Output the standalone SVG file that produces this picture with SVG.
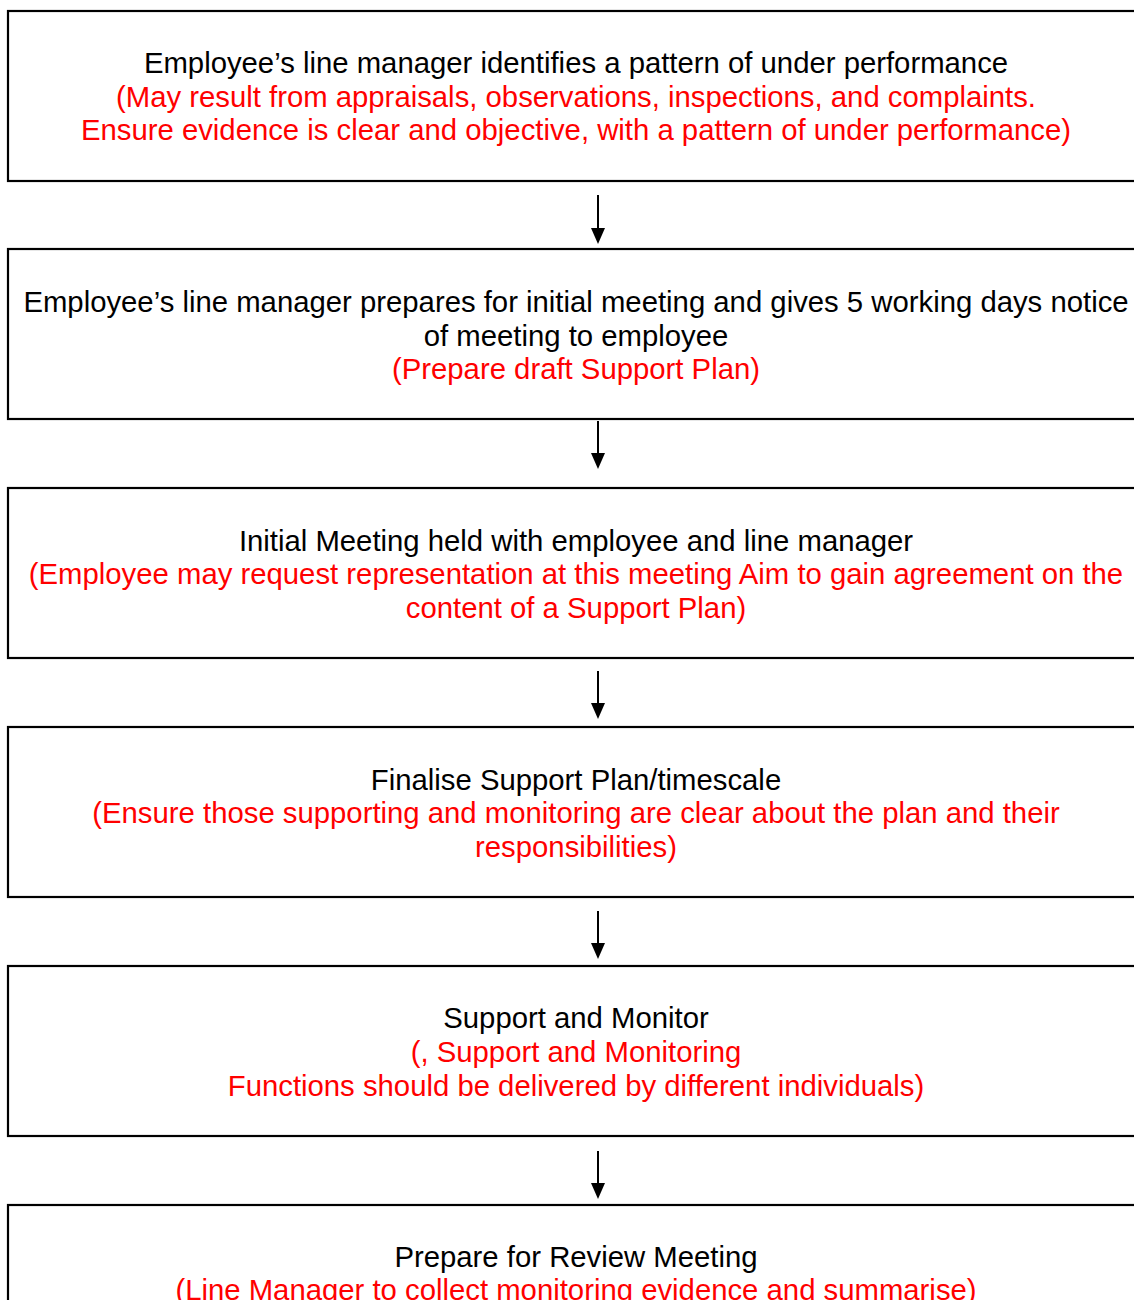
<svg xmlns="http://www.w3.org/2000/svg" width="1134" height="1300" viewBox="0 0 1134 1300">
  <style>
    .box { fill: #ffffff; stroke: #000000; stroke-width: 2.2; }
    .t { font-family: "Liberation Sans", Arial, sans-serif; font-size: 29.3px; text-anchor: middle; }
    .main { fill: #000000; }
    .note { fill: #ff0000; }
    .shaft { stroke: #000000; stroke-width: 2; }
    .tip { fill: #000000; }
  </style>
  <rect width="1134" height="1300" fill="#ffffff"/>

  <g id="node-identify">
    <rect class="box" x="8" y="11" width="1140" height="170"/>
    <text class="t main" x="576" y="73">Employee’s line manager identifies a pattern of under performance</text>
    <text class="t note" x="576" y="106.5">(May result from appraisals, observations, inspections, and complaints.</text>
    <text class="t note" x="576" y="140">Ensure evidence is clear and objective, with a pattern of under performance)</text>
  </g>

  <g id="node-prepare">
    <rect class="box" x="8" y="249" width="1140" height="170"/>
    <text class="t main" x="576" y="312">Employee’s line manager prepares for initial meeting and gives 5 working days notice</text>
    <text class="t main" x="576" y="346">of meeting to employee</text>
    <text class="t note" x="576" y="379">(Prepare draft Support Plan)</text>
  </g>

  <g id="node-initial-meeting">
    <rect class="box" x="8" y="488" width="1140" height="170"/>
    <text class="t main" x="576" y="551">Initial Meeting held with employee and line manager</text>
    <text class="t note" x="576" y="584">(Employee may request representation at this meeting Aim to gain agreement on the</text>
    <text class="t note" x="576" y="618">content of a Support Plan)</text>
  </g>

  <g id="node-finalise">
    <rect class="box" x="8" y="727" width="1140" height="170"/>
    <text class="t main" x="576" y="790">Finalise Support Plan/timescale</text>
    <text class="t note" x="576" y="823">(Ensure those supporting and monitoring are clear about the plan and their</text>
    <text class="t note" x="576" y="857">responsibilities)</text>
  </g>

  <g id="node-support">
    <rect class="box" x="8" y="966" width="1140" height="170"/>
    <text class="t main" x="576" y="1028">Support and Monitor</text>
    <text class="t note" x="576" y="1062">(, Support and Monitoring</text>
    <text class="t note" x="576" y="1096">Functions should be delivered by different individuals)</text>
  </g>

  <g id="node-review">
    <rect class="box" x="8" y="1205" width="1140" height="170"/>
    <text class="t main" x="576" y="1267">Prepare for Review Meeting</text>
    <text class="t note" x="576" y="1300">(Line Manager to collect monitoring evidence and summarise)</text>
  </g>

  <g id="connectors">
    <line class="shaft" x1="598" y1="195" x2="598" y2="230"/>
    <path class="tip" d="M591,228 L605,228 L598,244 Z"/>
    <line class="shaft" x1="598" y1="421" x2="598" y2="455"/>
    <path class="tip" d="M591,453 L605,453 L598,469 Z"/>
    <line class="shaft" x1="598" y1="671" x2="598" y2="704"/>
    <path class="tip" d="M591,703 L605,703 L598,719 Z"/>
    <line class="shaft" x1="598" y1="911" x2="598" y2="944"/>
    <path class="tip" d="M591,943 L605,943 L598,959 Z"/>
    <line class="shaft" x1="598" y1="1151" x2="598" y2="1184"/>
    <path class="tip" d="M591,1183 L605,1183 L598,1199 Z"/>
  </g>
</svg>
